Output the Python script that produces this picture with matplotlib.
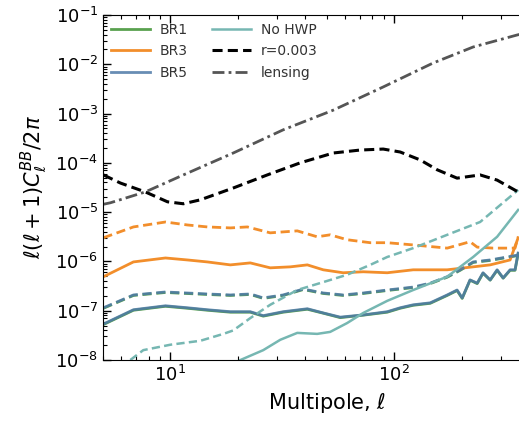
import numpy as np
import matplotlib
matplotlib.use("Agg")
import matplotlib.pyplot as plt
from matplotlib.ticker import LogLocator, NullFormatter

# ---- data (log10 ell, log10 D_ell) ----
lens_logl = [0.701, 0.732, 0.888, 1.058, 1.281, 1.504, 1.728, 1.951, 2.174, 2.353, 2.549, 2.65]
lens_logv = [-4.84, -4.81, -4.59, -4.245, -3.80, -3.33, -2.93, -2.46, -1.974, -1.649, -1.406, -1.30]

r_logl = [0.701, 0.777, 0.888, 0.987, 1.058, 1.134, 1.281, 1.433, 1.580, 1.728, 1.848, 1.951,
          2.027, 2.116, 2.192, 2.281, 2.384, 2.460, 2.554, 2.6]
r_logv = [-4.245, -4.41, -4.59, -4.79, -4.83, -4.75, -4.51, -4.245, -4.00, -3.80, -3.74, -3.72,
          -3.78, -3.94, -4.14, -4.31, -4.245, -4.35, -4.59, -4.65]

br3d_logl = [0.701, 0.835, 0.978, 1.076, 1.165, 1.268, 1.344, 1.446, 1.567, 1.656, 1.714, 1.790,
             1.893, 1.969, 2.085, 2.237, 2.339, 2.371, 2.442, 2.540, 2.554]
br3d_logv = [-5.52, -5.30, -5.20, -5.26, -5.30, -5.32, -5.30, -5.42, -5.38, -5.50, -5.46, -5.56,
             -5.62, -5.62, -5.665, -5.73, -5.60, -5.71, -5.73, -5.73, -5.50]

br3_logl = [0.701, 0.835, 0.978, 1.076, 1.165, 1.268, 1.357, 1.446, 1.536, 1.612, 1.683, 1.772,
            1.862, 1.969, 2.085, 2.237, 2.353, 2.429, 2.518, 2.554]
br3_logv = [-6.31, -6.01, -5.93, -5.97, -6.01, -6.07, -6.03, -6.13, -6.11, -6.07, -6.17, -6.23,
            -6.21, -6.23, -6.17, -6.17, -6.11, -6.07, -5.97, -5.52]

br5d_logl = [0.701, 0.835, 0.978, 1.165, 1.268, 1.357, 1.415, 1.504, 1.594, 1.683, 1.772, 1.862,
             1.969, 2.085, 2.161, 2.237, 2.295, 2.353, 2.429, 2.554]
br5d_logv = [-6.94, -6.68, -6.62, -6.66, -6.68, -6.66, -6.74, -6.68, -6.56, -6.64, -6.68, -6.64,
             -6.58, -6.52, -6.44, -6.31, -6.17, -6.01, -5.97, -5.87]

br5_logl = [0.701, 0.835, 0.978, 1.076, 1.165, 1.268, 1.357, 1.415, 1.504, 1.612, 1.683, 1.759,
            1.862, 1.969, 2.027, 2.085, 2.161, 2.237, 2.281, 2.304, 2.339, 2.371, 2.397, 2.429,
            2.460, 2.487, 2.518, 2.540, 2.554]
br5_logv = [-7.27, -6.98, -6.90, -6.94, -6.98, -7.02, -7.02, -7.10, -7.02, -6.96, -7.045, -7.13,
            -7.085, -7.02, -6.94, -6.88, -6.84, -6.68, -6.58, -6.74, -6.375, -6.44, -6.23, -6.375,
            -6.17, -6.335, -6.17, -6.17, -5.83]

br1_logl = [0.701, 0.835, 0.978, 1.076, 1.165, 1.268, 1.357, 1.415, 1.504, 1.612, 1.683, 1.759,
            1.862, 1.969, 2.027, 2.085, 2.161, 2.237, 2.281, 2.304, 2.339, 2.371, 2.397, 2.429,
            2.460, 2.487, 2.518, 2.540, 2.554]
br1_logv = [-7.28, -6.99, -6.91, -6.95, -6.99, -7.03, -7.03, -7.11, -7.03, -6.97, -7.05, -7.14,
            -7.09, -7.03, -6.95, -6.89, -6.85, -6.69, -6.59, -6.75, -6.38, -6.45, -6.24, -6.38,
            -6.18, -6.34, -6.18, -6.18, -5.84]
br1d_logl = [0.701, 0.835, 0.978, 1.165, 1.268, 1.357, 1.415, 1.504, 1.594, 1.683, 1.772, 1.862,
             1.969, 2.085, 2.161, 2.237, 2.295, 2.353, 2.429, 2.554]
br1d_logv = [-6.95, -6.69, -6.63, -6.67, -6.69, -6.67, -6.75, -6.69, -6.57, -6.65, -6.69, -6.65,
             -6.59, -6.53, -6.45, -6.32, -6.18, -6.02, -5.98, -5.88]

nohwp_logl = [1.313, 1.415, 1.491, 1.567, 1.656, 1.714, 1.790, 1.862, 1.969, 2.085, 2.237, 2.353,
              2.460, 2.554]
nohwp_logv = [-8.0, -7.80, -7.59, -7.45, -7.47, -7.43, -7.25, -7.045, -6.80, -6.58, -6.31, -5.91,
              -5.50, -4.955]

nohwpd_logl = [0.821, 0.879, 1.0, 1.134, 1.237, 1.281, 1.357, 1.446, 1.567, 1.683, 1.790, 1.893,
               1.969, 2.085, 2.237, 2.384, 2.554]
nohwpd_logv = [-8.0, -7.80, -7.69, -7.61, -7.47, -7.40, -7.15, -6.88, -6.58, -6.42, -6.27, -6.07,
               -5.91, -5.73, -5.46, -5.20, -4.55]

c_green = "#59a14f"
c_orange = "#f28e2b"
c_blue = "#4e79a7"
c_teal = "#76b7b2"
c_gray = "#555555"


def p(a):
    return 10.0 ** np.asarray(a)


dash = (0, (3.3, 1.7))

fig = plt.figure(figsize=(5.19, 4.25), dpi=100)
ax = fig.add_axes([103 / 519, 65 / 425, 447.6 / 519, 345 / 425])

ax.plot(p(br1_logl), p(br1_logv), color=c_green, lw=2.0, label="BR1")
ax.plot(p(br1d_logl), p(br1d_logv), color=c_green, lw=2.0, ls=dash)
ax.plot(p(br3_logl), p(br3_logv), color=c_orange, lw=2.0, label="BR3")
ax.plot(p(br3d_logl), p(br3d_logv), color=c_orange, lw=2.0, ls=dash)
ax.plot(p(br5_logl), p(br5_logv), color=c_blue, lw=2.0, alpha=0.85, label="BR5")
ax.plot(p(br5d_logl), p(br5d_logv), color=c_blue, lw=2.0, alpha=0.85, ls=dash)
ax.plot(p(nohwp_logl), p(nohwp_logv), color=c_teal, lw=1.8, label="No HWP")
ax.plot(p(nohwpd_logl), p(nohwpd_logv), color=c_teal, lw=1.8, ls=dash)
ax.plot(p(r_logl), p(r_logv), color="black", lw=2.2, ls=dash, label="r=0.003")
ax.plot(p(lens_logl), p(lens_logv), color=c_gray, lw=2.0, ls=(0, (4.3, 1.5, 1, 1.5)), label="lensing")

ax.set_xscale("log")
ax.set_yscale("log")
ax.set_xlim(5, 500)
ax.set_ylim(1e-8, 1e-1)

ax.yaxis.set_major_locator(LogLocator(base=10, numticks=20))
ax.yaxis.set_minor_locator(LogLocator(base=10, subs=np.arange(2, 10), numticks=100))
ax.yaxis.set_minor_formatter(NullFormatter())
ax.xaxis.set_minor_locator(LogLocator(base=10, subs=np.arange(2, 10), numticks=100))
ax.xaxis.set_minor_formatter(NullFormatter())

ax.tick_params(which="both", direction="in", top=True, right=True, labelsize=13)
ax.tick_params(which="major", length=6, width=1)
ax.tick_params(which="minor", length=3, width=0.8)

ax.set_xlabel(r"Multipole, $\ell$", fontsize=15)
ax.set_ylabel(r"$\ell(\ell+1)C_\ell^{BB}/2\pi$", fontsize=15)

leg = ax.legend(loc="upper left", ncol=2, frameon=False, fontsize=10,
                handlelength=2.8, columnspacing=1.8, borderaxespad=0.15,
                labelspacing=0.55, handletextpad=0.7)
for t in leg.get_texts():
    t.set_color("#333333")

fig.savefig("out.png", dpi=100)
